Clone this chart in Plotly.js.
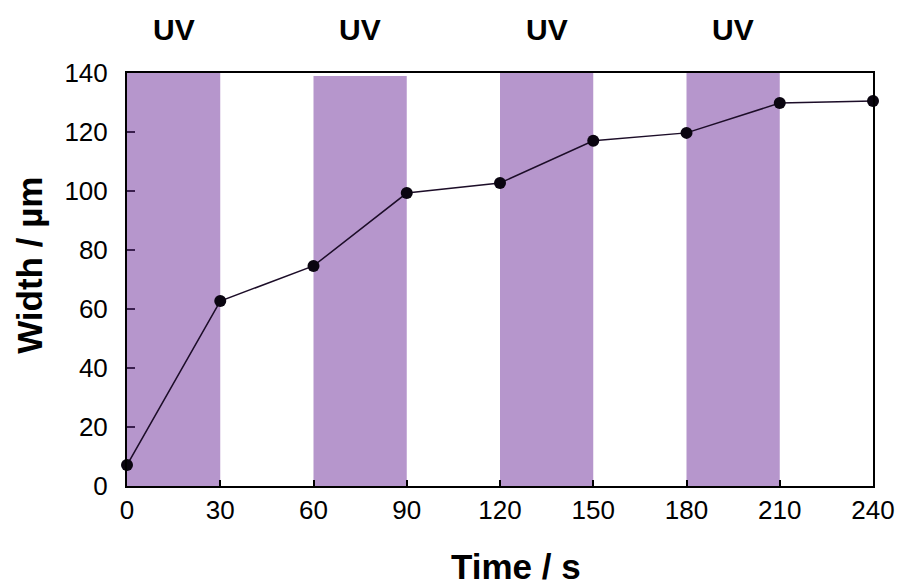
<!DOCTYPE html>
<html>
<head>
<meta charset="utf-8">
<script src="https://cdn.plot.ly/plotly-3.0.1.min.js"></script>
<style>html,body{margin:0;padding:0;background:#fff;}</style>
</head>
<body>
<div id="chart" style="width:898px;height:585px;"></div>
<script>
const timeS = [0, 30, 60, 90, 120, 150, 180, 210, 240];
const widthUm = [7.1, 62.7, 74.6, 99.3, 102.7, 117.0, 119.7, 129.8, 130.5];
const uvStart = [0, 60, 120, 180];
const uvEnd = [30, 90, 150, 210];
const uvTop = [140, 139, 140, 140];
const uvLabel = ["UV", "UV", "UV", "UV"];
const xTicks = [0, 30, 60, 90, 120, 150, 180, 210, 240];
const yTicks = [0, 20, 40, 60, 80, 100, 120, 140];
const xTitle = "Time / s";
const yTitle = "Width / µm";

const fontFam = 'Liberation Sans, Arial';
const shapes = uvStart.map((s, i) => ({
  type: 'rect', xref: 'x', yref: 'y', x0: s, x1: uvEnd[i], y0: 0, y1: uvTop[i],
  fillcolor: '#b696cc', line: {width: 0}, layer: 'below'
}));
const annotations = uvStart.map((s, i) => ({
  xref: 'x', yref: 'paper', x: (s + uvEnd[i]) / 2, y: 1.0, yanchor: 'middle', yshift: 44,
  text: '<b>' + uvLabel[i] + '</b>', showarrow: false,
  font: {family: fontFam, size: 30, color: '#000'}
}));
annotations.push({
  xref: 'paper', yref: 'paper', x: 0.521, y: 0, xanchor: 'center', yanchor: 'middle', yshift: -80,
  text: '<b>' + xTitle + '</b>', showarrow: false,
  font: {family: fontFam, size: 35, color: '#000'}
});
annotations.push({
  xref: 'paper', yref: 'paper', x: 0, y: 0.533, xanchor: 'center', yanchor: 'middle', xshift: -97,
  textangle: -90, text: '<b>' + yTitle + '</b>', showarrow: false,
  font: {family: fontFam, size: 35, color: '#000'}
});

const trace = {
  x: timeS, y: widthUm, type: 'scatter', mode: 'lines+markers',
  line: {color: '#1c0d28', width: 1.5},
  marker: {color: '#0a0510', size: 12, symbol: 'circle'},
  cliponaxis: false, showlegend: false
};

const layout = {
  width: 898, height: 585,
  margin: {l: 127, r: 25, t: 73, b: 99},
  paper_bgcolor: '#fff', plot_bgcolor: '#fff',
  shapes: shapes, annotations: annotations,
  xaxis: {
    range: [0, 240], tickvals: xTicks, ticktext: xTicks.map(String),
    ticks: 'inside', ticklen: 6, tickwidth: 2, tickcolor: '#000',
    showline: true, linewidth: 2, linecolor: '#000', mirror: true,
    showgrid: false, zeroline: false, ticklabelstandoff: 0,
    tickfont: {family: fontFam, size: 26, color: '#000'}
  },
  yaxis: {
    range: [0, 140], tickvals: yTicks, ticktext: yTicks.map(String),
    ticks: 'inside', ticklen: 8, tickwidth: 2, tickcolor: '#3a1f4e',
    showline: true, linewidth: 2, linecolor: '#000', mirror: true,
    showgrid: false, zeroline: false, ticklabelstandoff: 12,
    tickfont: {family: fontFam, size: 26, color: '#000'}
  }
};

Plotly.newPlot('chart', [trace], layout, {displayModeBar: false, staticPlot: true});
</script>
</body>
</html>
